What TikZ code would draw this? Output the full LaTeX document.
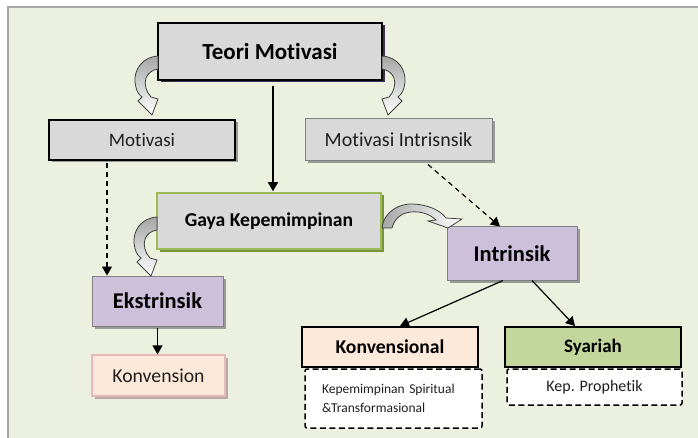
\documentclass[tikz,border=0pt]{standalone}
\usepackage{fontspec}
\setmainfont{Carlito}[Ligatures=NoCommon,Contextuals=NoAlternate]
\usetikzlibrary{arrows.meta,shadows,calc}
\definecolor{bggreen}{HTML}{EBF1DE}
\definecolor{frame}{HTML}{A6A6A6}
\definecolor{boxgray}{HTML}{D9D9D9}
\definecolor{boxpurple}{HTML}{CCC0DA}
\definecolor{boxpink}{HTML}{FDE9D9}
\definecolor{pinkline}{HTML}{E6B9B8}
\definecolor{boxolive}{HTML}{C3D69B}
\definecolor{oliveline}{HTML}{9BBB59}
\definecolor{oliveshadow}{HTML}{77933C}
\definecolor{purpleshadow}{HTML}{403152}
\definecolor{txt}{HTML}{1F1F1F}
\newcommand\mycurvL{(158,56) .. controls (142,57) and (134,70) .. (135,82) .. controls (136,90) and (138,94) .. (142,97) -- (138,101) -- (152,115) -- (158,99) -- (151,97) .. controls (146,92) and (144,84) .. (146,78) .. controls (148,73) and (152,70) .. (158,69) -- cycle}
\begin{document}
\begin{tikzpicture}[x=1pt,y=-1pt,
  box/.style={draw, inner sep=0pt, text=black},
  shgray/.style={drop shadow={shadow xshift=2.5pt, shadow yshift=-2.5pt, fill=black!40, opacity=1}},
  arr/.style={-{Triangle[length=9pt,width=10pt]}, line width=1.2pt, black},
  darr/.style={arr, dash pattern=on 5pt off 4pt},
  blockarr/.style={draw=black!75, line width=0.8pt, top color=black!35, bottom color=white},
  dbox/.style={draw, fill=white, line width=1.5pt, dash pattern=on 6pt off 3.5pt, rounded corners=2pt, inner sep=0pt, text=txt}
]
\useasboundingbox (0,0) rectangle (698,438);
\fill[white] (0,0) rectangle (698,438);
\fill[bggreen] (8,7) rectangle (698,438);
\draw[frame, line width=2pt] (8,438) -- (8,7) -- (698,7);

% nodes
\node[box, fill=boxgray, line width=2pt, minimum width=224pt, minimum height=57pt,
  drop shadow={shadow xshift=2.5pt, shadow yshift=-2.5pt, fill=purpleshadow, opacity=1},
  font=\fontsize{23}{27}\selectfont\bfseries] (teori) at (270,51.5) {Teori Motivasi};
\node[box, fill=boxgray, line width=1.5pt, minimum width=186pt, minimum height=40pt, shgray,
  text=txt, font=\fontsize{19}{23}\selectfont] (motiv) at (142,140) {Motivasi};
\node[box, draw=black!50, fill=boxgray, line width=1pt, minimum width=187pt, minimum height=42pt, shgray,
  text=txt, font=\fontsize{20}{24}\selectfont] (motintr) at (398.5,140) {Motivasi Intrisnsik};
\node[box, draw=oliveline, fill=boxgray, line width=1.5pt, minimum width=224pt, minimum height=56pt,
  drop shadow={shadow xshift=2.5pt, shadow yshift=-2.5pt, fill=oliveshadow, opacity=1},
  font=\fontsize{19.6}{23}\selectfont\bfseries] (gaya) at (269,221) {Gaya Kepemimpinan};
\node[box, draw=black!50, fill=boxpurple, line width=1pt, minimum width=131pt, minimum height=50pt, shgray,
  font=\fontsize{22.5}{26}\selectfont\bfseries] (ekstr) at (157.5,301) {Ekstrinsik};
\node[box, draw=black!50, fill=boxpurple, line width=1pt, minimum width=130pt, minimum height=53pt, shgray,
  font=\fontsize{22.5}{26}\selectfont\bfseries] (intr) at (512,253.5) {Intrinsik};
\node[box, draw=pinkline, fill=boxpink, line width=1.2pt, minimum width=133pt, minimum height=41pt,
  drop shadow={shadow xshift=2.5pt, shadow yshift=-2.5pt, fill=pinkline!60!black!60, opacity=1},
  text=txt, font=\fontsize{19.7}{23}\selectfont] (konvsn) at (158.5,375.5) {Konvension};
\node[box, fill=boxpink, line width=2pt, minimum width=176pt, minimum height=40pt,
  font=\fontsize{19.6}{23}\selectfont\bfseries] (konvl) at (390,347) {Konvensional};
\node[box, fill=boxolive, line width=2pt, minimum width=176pt, minimum height=40pt,
  font=\fontsize{19}{23}\selectfont\bfseries] (syar) at (593,347) {Syariah};
\node[dbox, minimum width=177pt, minimum height=59pt, text width=143pt, inner xsep=17pt, align=left,
  font=\fontsize{13.5}{19}\selectfont] (spirit) at (393.5,398.5) {Kepemimpinan Spiritual\\\&Transformasional};
\node[dbox, minimum width=175pt, minimum height=36pt,
  font=\fontsize{16}{19}\selectfont] (proph) at (594.5,387) {Kep. Prophetik};

% straight connectors
\draw[arr] ($(teori.south)+(3,5)$) -- ($(gaya.north)+(4,-1)$);
\draw[darr] ($(motiv.south)+(-35,2)$) -- ($(ekstr.north)+(-50.5,0)$);
\draw[darr] ($(motintr.south)+(29.5,3)$) -- ($(intr.north)+(-12,0)$);
\draw[arr] ($(ekstr.south)+(0,1)$) -- ($(konvsn.north)+(-1,0)$);
\draw[arr] ($(intr.south)+(-9,0)$) -- ($(konvl.north)+(10,0)$);
\draw[arr] ($(intr.south)+(20,0)$) -- ($(syar.north)+(-18,0)$);

% curved block arrows
\path[blockarr] \mycurvL;
\begin{scope}[cm={-1,0,0,1,(540pt,0pt)}]
\path[blockarr] \mycurvL;
\end{scope}
\begin{scope}[shift={(-1,161)}]
\path[blockarr] \mycurvL;
\end{scope}
\path[draw=black!75, line width=0.8pt, left color=black!35, right color=white]
  (382,228) .. controls (384,211) and (400,203) .. (414,204) .. controls (428,205) and (440,210) .. (446,218)
  -- (462,219) -- (448,228) -- (428,221) -- (436,220)
  .. controls (430,214) and (420,211) .. (411,212) .. controls (400,213) and (394,220) .. (392,228) -- cycle;
\end{tikzpicture}
\end{document}
